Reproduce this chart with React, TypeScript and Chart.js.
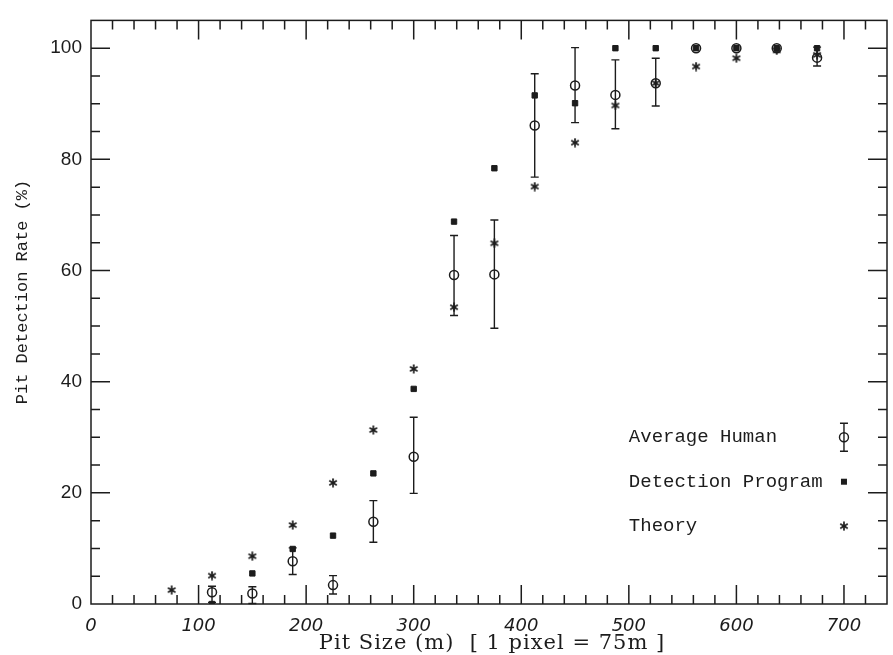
import { useEffect, useRef } from 'react';
import { Chart, registerables } from 'chart.js';

Chart.register(...registerables);

// ---- data ----
const pitSizes = [75, 112.5, 150, 187.5, 225, 262.5, 300, 337.5, 375, 412.5, 450, 487.5, 525, 562.5, 600, 637.5, 675];
const theory = [2.5, 5.1, 8.6, 14.2, 21.8, 31.3, 42.3, 53.4, 64.9, 75.1, 83.0, 89.7, 93.7, 96.7, 98.2, 99.6, 98.8];
const detection = [null, 0, 5.5, 9.9, 12.3, 23.5, 38.7, 68.8, 78.4, 91.5, 90.1, 100, 100, 100, 100, 100, 100];
const humanMean = [null, 2.1, 1.9, 7.7, 3.4, 14.8, 26.5, 59.2, 59.3, 86.1, 93.3, 91.6, 93.7, 100, 100, 100, 98.3];
const humanLow = [null, 0.3, 0.1, 5.3, 1.8, 11.1, 19.9, 51.9, 49.6, 76.8, 86.6, 85.5, 89.6, 100, 100, 100, 96.8];
const humanHigh = [null, 3.2, 3.1, 10.1, 5.1, 18.6, 33.6, 66.3, 69.1, 95.4, 100.1, 97.9, 98.2, 100, 100, 100, 100.2];

const xTickValues = [0, 100, 200, 300, 400, 500, 600, 700];
const yTickValues = [0, 20, 40, 60, 80, 100];

const legendLabels = ['Average Human', 'Detection Program', 'Theory'];
const xTitle = 'Pit Size (m)  [ 1 pixel = 75m ]';
const yTitle = 'Pit Detection Rate (%)';

const INK = '#1c1c1c';

function toPoints(values: (number | null)[]) {
  const pts: { x: number; y: number }[] = [];
  values.forEach((v, i) => {
    if (v !== null && v !== undefined) pts.push({ x: pitSizes[i], y: v });
  });
  return pts;
}

function makeStar(): HTMLCanvasElement {
  const c = document.createElement('canvas');
  c.width = 10;
  c.height = 10;
  const g = c.getContext('2d')!;
  g.strokeStyle = INK;
  g.lineWidth = 1.7;
  g.lineCap = 'round';
  const r = 3.8;
  for (const a of [Math.PI / 2, Math.PI / 6, (5 * Math.PI) / 6]) {
    g.beginPath();
    g.moveTo(5 - r * Math.cos(a), 5 - r * Math.sin(a));
    g.lineTo(5 + r * Math.cos(a), 5 + r * Math.sin(a));
    g.stroke();
  }
  return c;
}

function drawErrorBar(ctx: CanvasRenderingContext2D, px: number, yTop: number, yBot: number) {
  ctx.beginPath();
  ctx.moveTo(px, yTop);
  ctx.lineTo(px, yBot);
  ctx.moveTo(px - 4, yTop);
  ctx.lineTo(px + 4, yTop);
  ctx.moveTo(px - 4, yBot);
  ctx.lineTo(px + 4, yBot);
  ctx.stroke();
}

const framePlugin = {
  id: 'frameAndExtras',
  beforeDatasetsDraw(chart: any) {
    const { ctx, scales } = chart;
    const x = scales.x;
    const y = scales.y;
    ctx.save();
    ctx.strokeStyle = INK;
    ctx.lineWidth = 1.4;
    pitSizes.forEach((s, i) => {
      const lo = humanLow[i];
      const hi = humanHigh[i];
      if (lo === null || hi === null || lo === hi) return;
      drawErrorBar(ctx, x.getPixelForValue(s), y.getPixelForValue(hi), y.getPixelForValue(lo));
    });
    ctx.restore();
  },
  afterDraw(chart: any) {
    const { ctx, chartArea, scales } = chart;
    const { left, right, top, bottom } = chartArea;
    const x = scales.x;
    const y = scales.y;
    ctx.save();
    ctx.strokeStyle = INK;
    ctx.lineWidth = 1.5;
    ctx.strokeRect(left, top, right - left, bottom - top);
    ctx.beginPath();
    for (let v = 20; v < x.max; v += 20) {
      const px = x.getPixelForValue(v);
      const len = v % 100 === 0 ? 19 : 9;
      ctx.moveTo(px, bottom);
      ctx.lineTo(px, bottom - len);
      ctx.moveTo(px, top);
      ctx.lineTo(px, top + len);
    }
    for (let v = 5; v < y.max; v += 5) {
      const py = y.getPixelForValue(v);
      const len = v % 20 === 0 ? 19 : 9;
      ctx.moveTo(left, py);
      ctx.lineTo(left + len, py);
      ctx.moveTo(right, py);
      ctx.lineTo(right - len, py);
    }
    ctx.stroke();

    ctx.fillStyle = INK;

    // x axis title
    ctx.save();
    ctx.font = '21px "DejaVu Serif", serif';
    ctx.textAlign = 'center';
    ctx.textBaseline = 'middle';
    if ('letterSpacing' in ctx) (ctx as any).letterSpacing = '1px';
    ctx.fillText(xTitle, (left + right) / 2 + 3, 644);
    ctx.restore();

    // y axis title
    ctx.save();
    ctx.translate(22, 292);
    ctx.rotate(-Math.PI / 2);
    ctx.font = '17px "Liberation Mono", monospace';
    ctx.textAlign = 'center';
    ctx.textBaseline = 'middle';
    ctx.fillText(yTitle, 0, 0);
    ctx.restore();

    // legend
    const rowValues = [30, 22, 14];
    const tx = x.getPixelForValue(500);
    const sx = x.getPixelForValue(700);
    ctx.font = '19px "Liberation Mono", monospace';
    ctx.textAlign = 'left';
    ctx.textBaseline = 'middle';
    legendLabels.forEach((lab, i) => {
      ctx.fillText(lab, tx, y.getPixelForValue(rowValues[i]));
    });
    const py0 = y.getPixelForValue(rowValues[0]);
    ctx.lineWidth = 1.4;
    drawErrorBar(ctx, sx, py0 - 14, py0 + 14);
    ctx.beginPath();
    ctx.arc(sx, py0, 4.5, 0, Math.PI * 2);
    ctx.stroke();
    const py1 = y.getPixelForValue(rowValues[1]);
    ctx.fillRect(sx - 3, py1 - 3, 6, 6);
    const py2 = y.getPixelForValue(rowValues[2]);
    const star = (chart as any).$star as HTMLCanvasElement;
    if (star) ctx.drawImage(star, sx - star.width / 2, py2 - star.height / 2);
    ctx.restore();
  },
};

export default function App() {
  const ref = useRef<HTMLCanvasElement | null>(null);
  useEffect(() => {
    if (!ref.current) return;
    const star = makeStar();
    const chart = new Chart(ref.current, {
      type: 'scatter',
      data: {
        datasets: [
          {
            label: legendLabels[0],
            data: toPoints(humanMean),
            pointStyle: 'circle',
            pointRadius: 4.5,
            borderWidth: 1.5,
            borderColor: INK,
            backgroundColor: 'rgba(0,0,0,0)',
          },
          {
            label: legendLabels[1],
            data: toPoints(detection),
            pointStyle: 'rect',
            pointRadius: 3.8,
            borderWidth: 1,
            borderColor: INK,
            backgroundColor: INK,
          },
          {
            label: legendLabels[2],
            data: toPoints(theory),
            pointStyle: star,
            pointRadius: 5,
            borderColor: INK,
            backgroundColor: INK,
          },
        ],
      },
      options: {
        responsive: false,
        devicePixelRatio: 1,
        animation: false,
        events: [],
        layout: { padding: { top: 13, right: 5, left: 0, bottom: 0 } },
        plugins: {
          legend: { display: false },
          tooltip: { enabled: false },
        },
        scales: {
          x: {
            type: 'linear',
            min: 0,
            max: 740,
            afterBuildTicks: (s: any) => {
              s.ticks = xTickValues.map((value) => ({ value }));
            },
            afterFit: (s: any) => {
              s.height = 51;
            },
            grid: { display: true, drawOnChartArea: false, drawTicks: false, color: 'rgba(0,0,0,0)' },
            border: { display: false },
            ticks: {
              color: INK,
              padding: 12,
              maxRotation: 0,
              autoSkip: false,
              font: { family: '"DejaVu Sans", sans-serif', size: 18, style: 'italic' },
            },
            title: { display: false },
          },
          y: {
            type: 'linear',
            min: 0,
            max: 105,
            afterBuildTicks: (s: any) => {
              s.ticks = yTickValues.map((value) => ({ value }));
            },
            afterFit: (s: any) => {
              s.width = 91;
            },
            grid: { display: true, drawOnChartArea: false, drawTicks: false, color: 'rgba(0,0,0,0)' },
            border: { display: false },
            ticks: {
              color: INK,
              padding: 9,
              autoSkip: false,
              font: { family: '"Liberation Sans", sans-serif', size: 19 },
            },
            title: { display: false },
          },
        },
      },
      plugins: [framePlugin],
    } as any);
    (chart as any).$star = star;
    chart.draw();
    return () => chart.destroy();
  }, []);
  return (
    <div style={{ position: 'absolute', left: 0, top: 0, width: 893, height: 655, background: '#fff' }}>
      <canvas ref={ref} width={893} height={655} style={{ display: 'block' }} />
    </div>
  );
}
